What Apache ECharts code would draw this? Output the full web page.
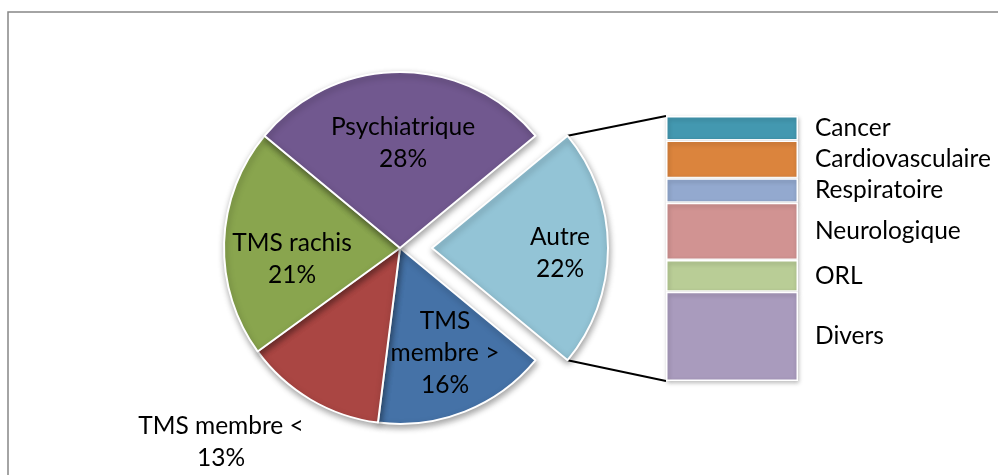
<!DOCTYPE html>
<html><head><meta charset="utf-8">
<script src="https://cdn.jsdelivr.net/npm/echarts@6/dist/echarts.min.js"></script>
<style>html,body{margin:0;padding:0;background:#fff}#c{width:998px;height:475px}</style>
</head><body><div id="c"></div>
<script>
// ---- data ----
var pieNames = ['Autre', 'TMS membre >', 'TMS membre <', 'TMS rachis', 'Psychiatrique'];
var pieValues = [22, 16, 13, 21, 28];
var barNames = ['Cancer', 'Cardiovasculaire', 'Respiratoire', 'Neurologique', 'ORL', 'Divers'];
var barValues = [2.0, 3.1, 2.0, 4.7, 2.6, 7.3];

// ---- styles / layout ----
var pieColors = ['#93C4D6', '#4572A7', '#AA4643', '#89A54E', '#71588F'];
var barColors = ['#4398B0', '#DB843D', '#93A9CF', '#D19392', '#B9CD96', '#A99BBD'];
var FONT = 'Lato';
var FS = 24.5;
var CX = 400, CY = 248, R = 176, OFF = 32;
// label centres (page pixels) for each slice, as placed in the original chart
var labelCenters = [[560, 253], [445, 353], [221, 442], [292, 259], [403, 143]];
var G = {left: 666, top: 116, width: 132, height: 265};

var total = pieValues.reduce(function(a,b){return a+b;},0);
var startAngle = 360 * pieValues[0] / total / 2;
var barTotal = barValues.reduce(function(a,b){return a+b;},0);

var chart = echarts.init(document.getElementById('c'), null, {renderer:'canvas'});
var a0 = startAngle*Math.PI/180;
var corner1 = [CX + OFF + R*Math.cos(a0), CY - R*Math.sin(a0)];
var corner2 = [CX + OFF + R*Math.cos(a0), CY + R*Math.sin(a0)];

var series = [{
  type: 'pie', center: [CX, CY], radius: R, startAngle: startAngle, clockwise: true,
  selectedMode: 'single', selectedOffset: OFF, animation: false,
  emphasis: {disabled: true},
  itemStyle: {borderColor: '#fff', borderWidth: 2, shadowBlur: 6, shadowColor: 'rgba(0,0,0,0.35)', shadowOffsetX: 1, shadowOffsetY: 3},
  label: {show: true, position: 'inside', color: '#000', fontFamily: FONT, fontSize: FS, lineHeight: 32, align: 'center',
    formatter: function(p){
      var n = p.name;
      if (p.dataIndex === 1) n = n.replace(' ', '\n');
      return n + '\n' + Math.round(p.percent) + '%';
    }},
  labelLine: {show: false},
  labelLayout: function(p){
    var pos = labelCenters[p.dataIndex], r = p.labelRect;
    var sx = p.dataIndex === 0 ? OFF : 0; // label travels with the exploded slice
    return {dx: pos[0] - sx - (r.x + r.width/2), dy: pos[1] - (r.y + r.height/2)};
  },
  data: pieNames.map(function(n,i){
    return {name: n, value: pieValues[i], selected: i===0, itemStyle: {color: pieColors[i]}};
  })
}];
barNames.forEach(function(n,i){
  series.push({
    type: 'bar', name: n, stack: 's', barWidth: '100%',
    animation: false, emphasis: {disabled: true},
    itemStyle: {color: barColors[i], borderColor: '#fff', borderWidth: 1.5, shadowBlur: 4, shadowColor: 'rgba(0,0,0,0.25)', shadowOffsetX: 1, shadowOffsetY: 2},
    label: {show: true, position: 'right', distance: 17, formatter: '{a}', color: '#000', fontFamily: FONT, fontSize: FS},
    data: [barValues[i]]
  });
});

chart.setOption({
  backgroundColor: '#fff',
  animation: false,
  grid: {left: G.left, top: G.top, width: G.width, height: G.height},
  xAxis: {type: 'category', data: [''], show: false},
  yAxis: {type: 'value', min: 0, max: barTotal, inverse: true, show: false},
  graphic: [
    {type: 'rect', shape: {x: 8, y: 12, width: 1100, height: 600}, style: {fill: 'none', stroke: '#878787', lineWidth: 1.5}, silent: true, z: -1},
    {type: 'line', shape: {x1: corner1[0], y1: corner1[1], x2: G.left, y2: G.top}, style: {stroke: '#000', lineWidth: 2}, silent: true},
    {type: 'line', shape: {x1: corner2[0], y1: corner2[1], x2: G.left, y2: G.top + G.height}, style: {stroke: '#000', lineWidth: 2}, silent: true}
  ],
  series: series
});
</script></body></html>
